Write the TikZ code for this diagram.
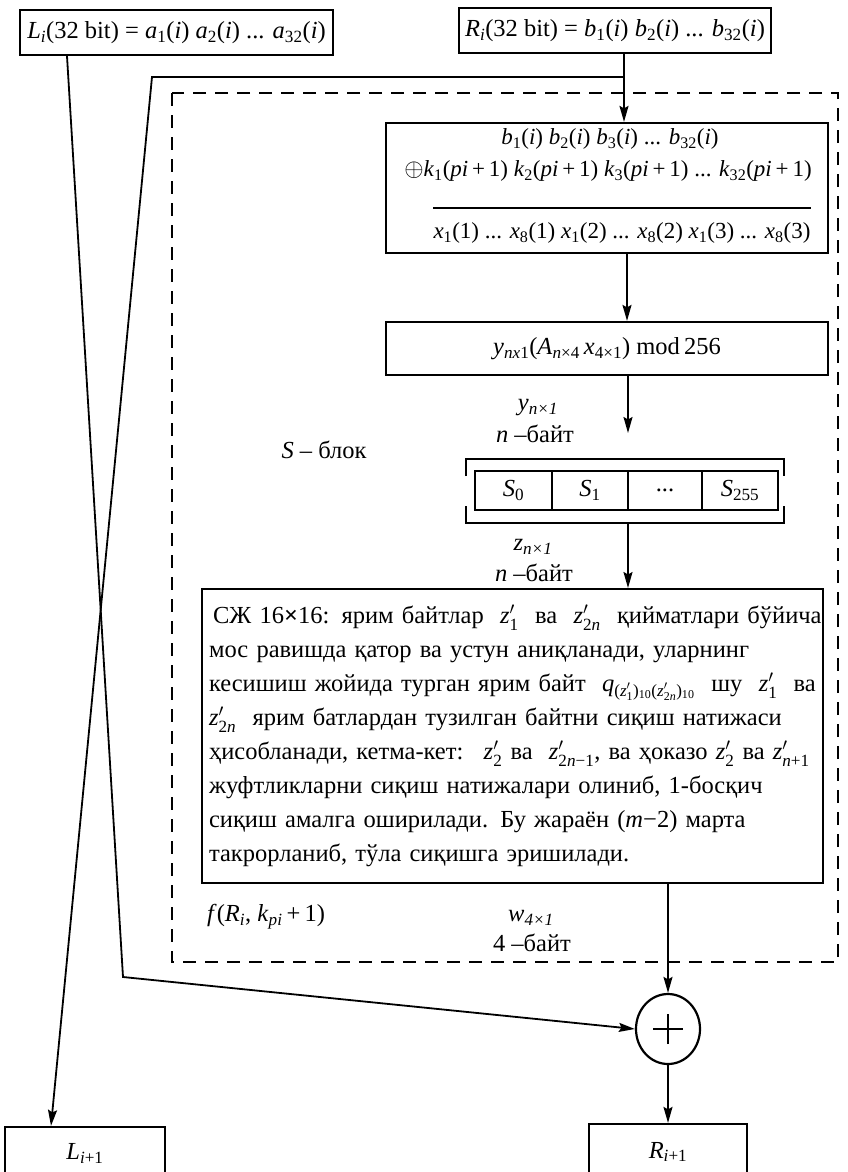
\documentclass[tikz,border=0pt]{standalone}
\usepackage{amsmath}
\usepackage{fontspec}
\setmainfont{Liberation Serif}
\usetikzlibrary{arrows.meta,shapes.geometric}
\newcommand\I{\textit}
% subscript and primed z, both set in the text font
\newcommand\s[1]{${}_{\text{#1}}$}
\newcommand\zp[1]{\textit{z}${}^{\prime}_{\text{#1}}$}
\begin{document}
\begin{tikzpicture}[x=1pt,y=-1pt,font=\fontsize{24.5}{34}\selectfont,
  box/.style={draw,line width=2.2pt,inner sep=0pt},
  cell/.style={draw,line width=2pt,inner sep=0pt,minimum height=39pt},
  conn/.style={line width=1.8pt},
  arr/.style={conn,-{Stealth[length=16pt,width=9pt,inset=2.5pt]}},
  dashbox/.style={line width=2.4pt,dash pattern=on 13pt off 9pt},
  lbl/.style={inner sep=0pt},
  xorline/.style={inner sep=0pt,font=\fontsize{23}{30}\selectfont}]
\useasboundingbox (0,0) rectangle (848,1172);

% input halves
\node[box,minimum width=313pt,minimum height=45pt] (Li) at (176.5,32.5)
  {\I{L}\s{\I{i}}(32 bit) = \I{a}\s{1}(\I{i}) \I{a}\s{2}(\I{i}) ... \I{a}\s{32}(\I{i})};
\node[box,minimum width=312pt,minimum height=45pt] (Ri) at (615,30.5)
  {\I{R}\s{\I{i}}(32 bit) = \I{b}\s{1}(\I{i}) \I{b}\s{2}(\I{i}) ... \I{b}\s{32}(\I{i})};

% round function frame
\draw[dashbox] (172,93) rectangle (838,962);

% key addition
\node[box,minimum width=442pt,minimum height=130pt] (xb) at (607,188) {};
\node[xorline] (xl1) at (610,139) {\I{b}\s{1}(\I{i}) \I{b}\s{2}(\I{i}) \I{b}\s{3}(\I{i}) ... \I{b}\s{32}(\I{i})};
\node[xorline] (xl2) at (608,171) {{\fontsize{29}{30}\selectfont$\oplus$}\I{k}\s{1}(\I{pi}\,+\,1) \I{k}\s{2}(\I{pi}\,+\,1) \I{k}\s{3}(\I{pi}\,+\,1) ... \I{k}\s{32}(\I{pi}\,+\,1)};
\node[xorline] (xl3) at (622,233) {\I{x}\s{1}(1) ... \I{x}\s{8}(1) \I{x}\s{1}(2) ... \I{x}\s{8}(2) \I{x}\s{1}(3) ... \I{x}\s{8}(3)};
\draw[line width=1.4pt] (xl3.west |- 0,208) -- (xl3.east |- 0,208);

% linear layer
\node[box,minimum width=442pt,minimum height=53pt] (yb) at (607,348.5)
  {\I{y}\s{\I{nx}1}(\I{A}\s{\I{n}×4}\,\I{x}\s{4×1}) mod\,256};

% S-box bracket and cells
\draw[line width=2.2pt] (466,476) -- (466,459) -- (784,459) -- (784,476);
\draw[line width=2.2pt] (466,506) -- (466,523) -- (784,523) -- (784,506);
\node[cell,minimum width=77pt] (s0) at (513.5,490.5) {\I{S}\s{0}};
\node[cell,minimum width=76pt] (s1) at (590,490.5) {\I{S}\s{1}};
\node[cell,minimum width=74pt] (sd) at (665,490.5) {...};
\node[cell,minimum width=76pt] (s255) at (740,490.5) {\I{S}\s{255}};
\node[lbl] (sblk) at (324,450) {\I{S} – блок};

% compression step
\node[box,anchor=north west,minimum width=621pt,minimum height=294pt,
      text width=607pt,align=left,inner xsep=7pt] (sj) at (201,588) {%
\mbox{\hspace*{4pt}СЖ 16\textbf{×}16: ярим байтлар~ \zp{1}~ ва~ \zp{2\I{n}}~ қийматлари бўйича}\\
\mbox{мос равишда қатор ва устун аниқланади, уларнинг}\\
\mbox{кесишиш жойида турган ярим байт~ \I{q}${}_{\text{(\I{z}${}^{\prime}_{\text{1}}$)${}_{\text{10}}$(\I{z}${}^{\prime}_{\text{2\I{n}}}$)${}_{\text{10}}$}}$~ шу~ \zp{1}~ ва}\\
\mbox{\zp{2\I{n}}~ ярим батлардан тузилган байтни сиқиш натижаси}\\
\mbox{ҳисобланади, кетма-кет:~ \zp{2} ва~ \zp{2\I{n}−1}, ва ҳоказо \zp{2} ва \zp{\I{n}+1}}\\
\mbox{жуфтликларни сиқиш натижалари олиниб, 1-босқич}\\
\mbox{сиқиш амалга оширилади. Бу жараён (\I{m}−2) марта}\\
\mbox{такрорланиб, тўла сиқишга эришилади.}};

% labels on the flow
\node[lbl] (ylab) at (538,408) {\I{y}\s{\I{n×1}}};
\node[lbl] (ybyte) at (535,434) {\I{n} –байт};
\node[lbl] (zlab) at (533,547) {\I{z}\s{\I{n×1}}};
\node[lbl] (zbyte) at (534,573) {\I{n} –байт};
\node[lbl,anchor=west] (flab) at (207,917) {\I{f}(\I{R}\s{\I{i}}, \I{k}\s{\I{pi}}\,+\,1)};
\node[lbl] (wlab) at (531,918) {\I{w}\s{\I{4×1}}};
\node[lbl] (wbyte) at (532,943) {4 –байт};

% output side
\node[draw,ellipse,line width=2.2pt,minimum width=64pt,minimum height=70pt,inner sep=0pt] (circ) at (668,1029) {};
\draw[line width=2.8pt] ([xshift=-15pt]circ.center) -- ([xshift=15pt]circ.center)
                        ([yshift=-15pt]circ.center) -- ([yshift=15pt]circ.center);
\node[box,minimum width=160pt,minimum height=53pt] (Ln) at (85,1153.5) {\I{L}\s{\I{i}+1}};
\node[box,minimum width=158pt,minimum height=56pt] (Rn) at (668,1152) {\I{R}\s{\I{i}+1}};

% connectors
\coordinate (cU) at (624,77);
\coordinate (corner) at (152,77);
\coordinate (tipL) at (51,0);
\coordinate (c2) at (627,0);
\coordinate (yend) at (628,433);
\coordinate (brb) at (628,523);
\coordinate (cL) at (668,0);
\coordinate (lstart) at (67,0);
\coordinate (bend) at (123,977);

\draw[arr] (Ri.south -| cU) -- (cU) -- (corner) -- (Ln.north -| tipL);
\draw[arr] (cU) -- (xb.north -| cU);
\draw[arr] (xb.south -| c2) -- (yb.north -| c2);
\draw[arr] (yb.south -| yend) -- (yend);
\draw[arr] (brb) -- (sj.north -| brb);
\draw[arr] (sj.south -| cL) -- (circ.north);
\draw[arr] (Li.south -| lstart) -- (bend) -- (circ.west);
\draw[arr] (circ.south) -- (Rn.north);
\end{tikzpicture}
\end{document}
